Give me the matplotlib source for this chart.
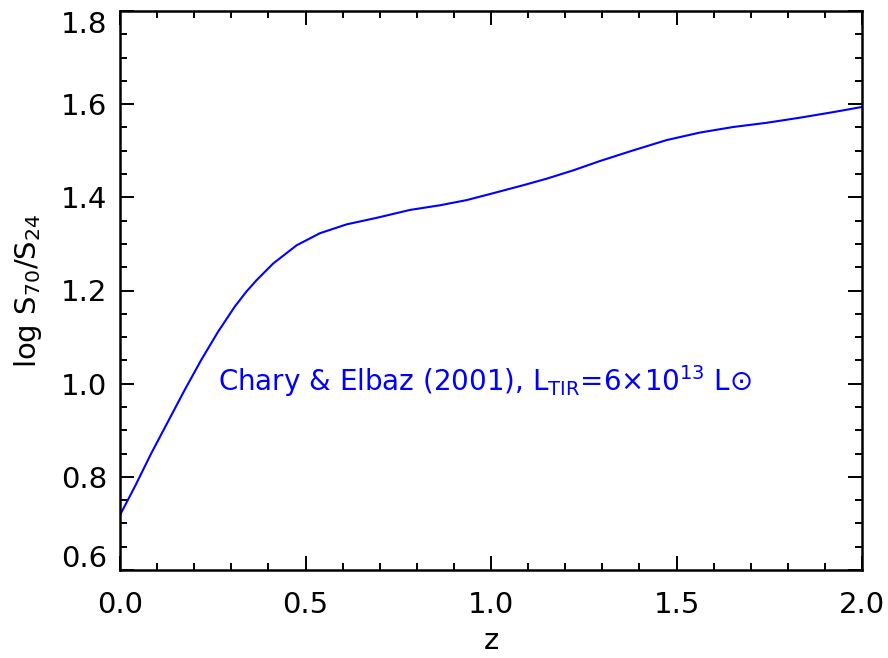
import matplotlib
matplotlib.use("Agg")
import matplotlib.pyplot as plt
import matplotlib.transforms as mtransforms

z = [0.000, 0.040, 0.084, 0.129, 0.174, 0.219, 0.264, 0.309, 0.340, 0.368,
     0.413, 0.476, 0.539, 0.611, 0.692, 0.782, 0.863, 0.934, 0.997, 1.087,
     1.150, 1.222, 1.294, 1.384, 1.474, 1.563, 1.653, 1.743, 1.833, 1.923,
     2.000]
log_ratio = [0.718, 0.779, 0.850, 0.918, 0.986, 1.051, 1.111, 1.165, 1.197, 1.222,
             1.258, 1.297, 1.323, 1.342, 1.356, 1.373, 1.383, 1.394, 1.407, 1.426,
             1.440, 1.458, 1.478, 1.501, 1.523, 1.539, 1.551, 1.560, 1.571, 1.583,
             1.594]

xticks = [0.0, 0.5, 1.0, 1.5, 2.0]
yticks = [0.6, 0.8, 1.0, 1.2, 1.4, 1.6, 1.8]

plt.rcParams['font.family'] = ['DejaVu Sans']
fig = plt.figure(figsize=(8.88, 6.58), dpi=100)
ax = fig.add_axes([120/888, 88/658, 742/888, 559/658])

ax.plot(z, log_ratio, color=(0, 0, 1), lw=1.5, solid_joinstyle='round')

ax.set_xlim(0, 2.0)
ax.set_ylim(0.6, 1.8)
ax.set_xticks(xticks)
ax.set_yticks(yticks)
ax.set_xticklabels([f"{t:.1f}" for t in xticks])
ax.set_yticklabels([f"{t:.1f}" for t in yticks])
ax.set_xticks([i * 0.1 for i in range(21)], minor=True)
ax.set_yticks([0.6 + i * 0.05 for i in range(25)], minor=True)

ax.tick_params(which='both', direction='in', top=True, right=True,
               width=1.4, labelsize=21, colors='black')
ax.tick_params(which='major', length=10)
ax.tick_params(which='minor', length=5)
ax.tick_params(axis='x', pad=15)
ax.tick_params(axis='y', pad=9)
for s in ax.spines.values():
    s.set_linewidth(1.8)

# shift end labels inward like the reference
labels = ax.get_yticklabels()
labels[0].set_transform(labels[0].get_transform() +
                        mtransforms.ScaledTranslation(0, 14/100, fig.dpi_scale_trans))
labels[-1].set_transform(labels[-1].get_transform() +
                         mtransforms.ScaledTranslation(0, -11/100, fig.dpi_scale_trans))

ax.set_xlabel("z", fontsize=21, labelpad=6)
ax.set_ylabel(r"log S$_{70}$/S$_{24}$", fontsize=21, labelpad=12)

ax.text(0.264, 1.006,
        r"Chary & Elbaz (2001), L$_{\rm TIR}$=6$\times$10$^{13}$ L$\odot$",
        color=(0, 0, 1), fontsize=20, va='center', ha='left')

fig.savefig("out.png", dpi=100)
